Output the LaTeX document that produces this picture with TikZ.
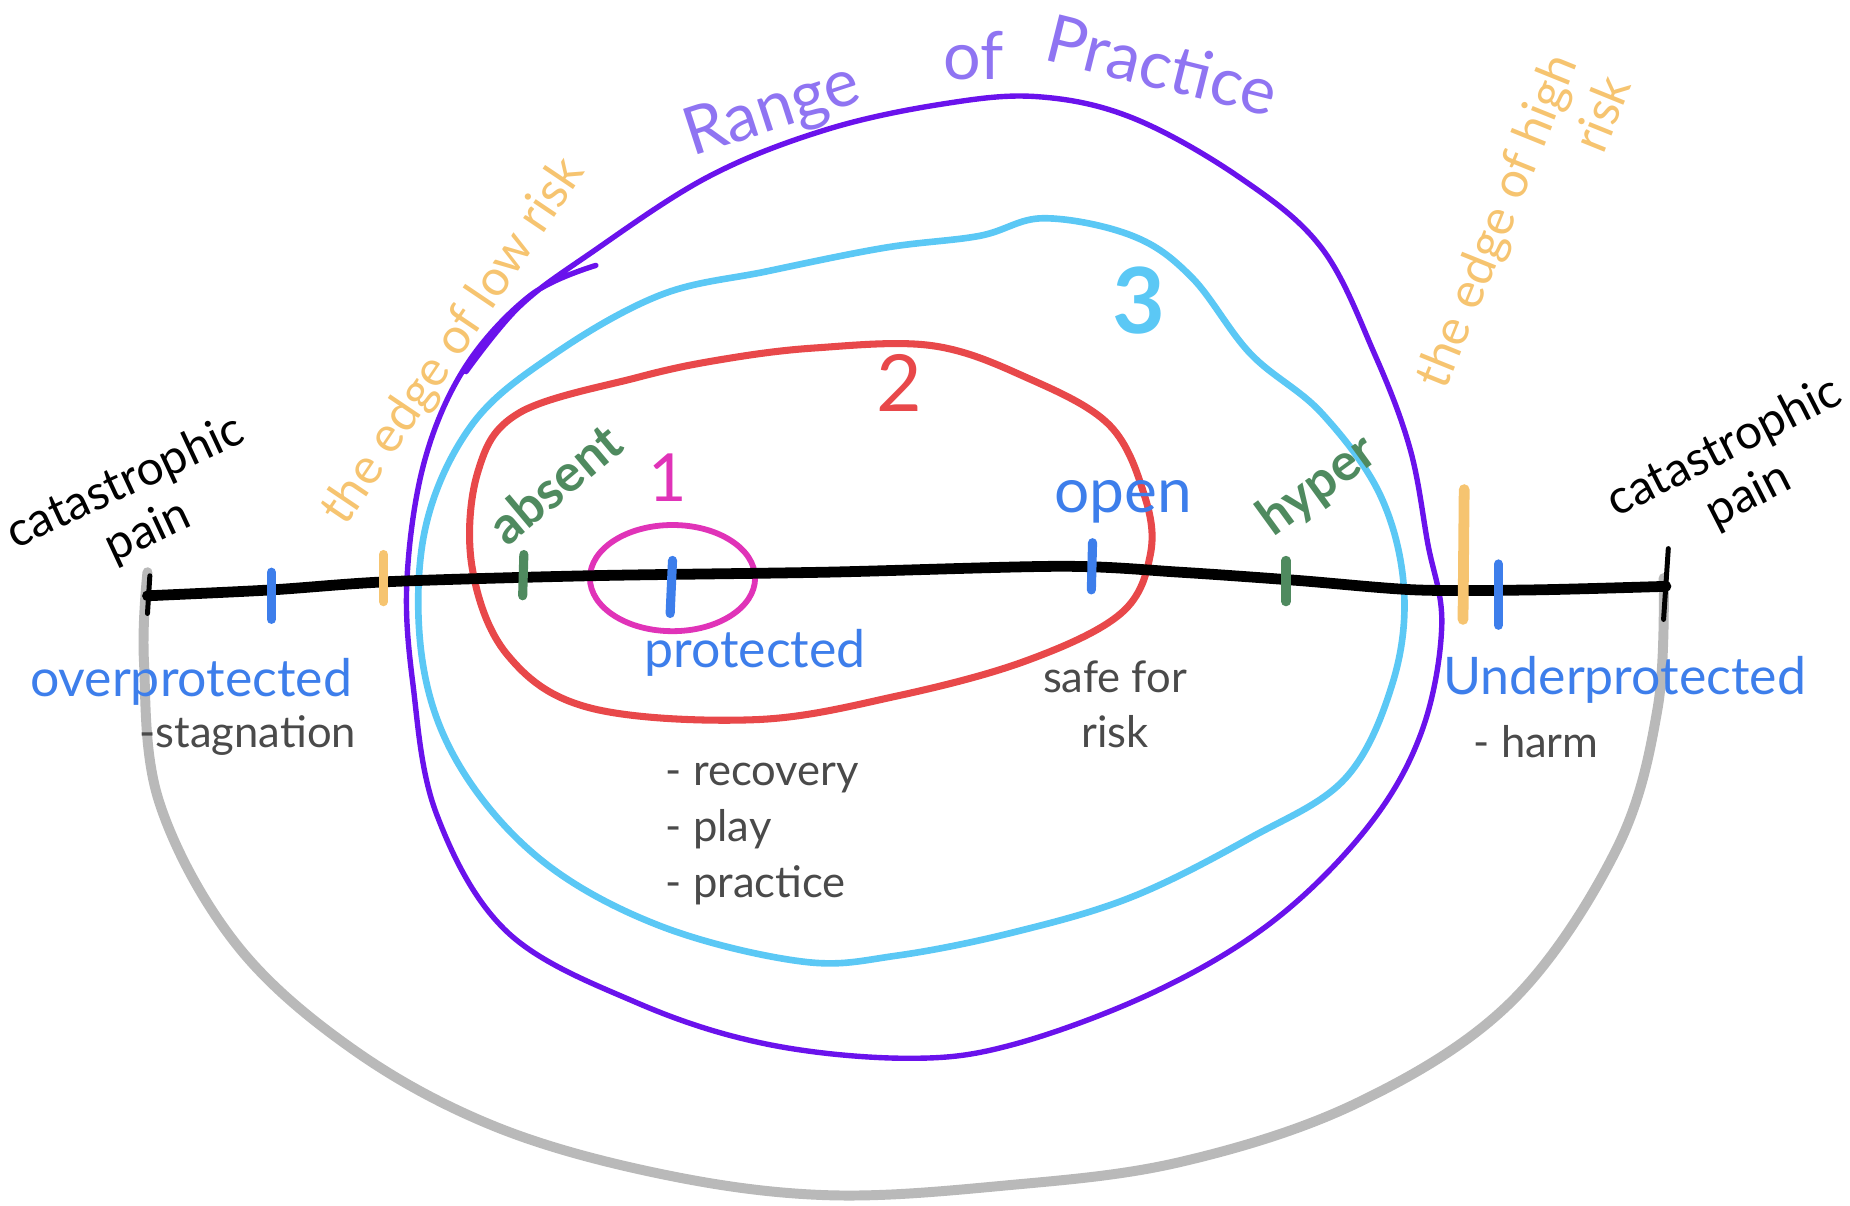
\documentclass[tikz,border=0pt]{standalone}
\usepackage{fontspec}
\setmainfont{Lato}
\usepackage{xcolor}
\usetikzlibrary{positioning}

\definecolor{rangepurple}{HTML}{6A12EC}
\definecolor{labelpurple}{HTML}{8F74F2}
\definecolor{ringcyan}{HTML}{5BC8F5}
\definecolor{ringred}{HTML}{E8484A}
\definecolor{ringpink}{HTML}{E033B8}
\definecolor{edgeorange}{HTML}{F6C470}
\definecolor{zoneblue}{HTML}{3D7EEB}
\definecolor{markgreen}{HTML}{4F8A5F}
\definecolor{notegray}{HTML}{4A4A4A}

\begin{document}
\begin{tikzpicture}[x=0.1mm,y=0.1mm,
    ring/.style={line width=#1,line join=round,line cap=round},
    tickmark/.style={line width=2.2pt,line cap=round},
    zone/.style={text=zoneblue,font=\fontsize{12.5}{14}\selectfont},
    note/.style={text=notegray,font=\fontsize{10.5}{13.5}\selectfont},
    edgetext/.style={text=edgeorange,font=\fontsize{12}{14}\selectfont},
    riskmark/.style={text=markgreen,font=\bfseries\fontsize{12.5}{14}\selectfont},
    titletext/.style={text=labelpurple,font=\fontsize{16}{18}\selectfont},
    paintext/.style={font=\fontsize{11.5}{13}\selectfont,align=center,inner sep=1pt}]
    \useasboundingbox (0,0) rectangle (1568,1022);

    % outer bowl of pain
    \draw[ring=2.4pt,gray!55,line cap=round] plot[smooth,tension=0.6] coordinates {
        (125,537) (122,462) (135,342) (200,222) (300,132) (420,67) (560,27)
        (700,9) (850,17) (1000,37) (1150,87) (1280,172) (1370,302) (1405,422) (1410,532)};

    % range of practice
    \draw[ring=1.3pt,rangepurple] plot[smooth,tension=0.6] coordinates {
        (395,707) (440,762) (500,807) (600,872) (700,912) (800,934) (880,940)
        (960,922) (1050,872) (1120,812) (1165,722) (1195,642) (1210,562) (1222,492)
        (1205,402) (1160,322) (1080,242) (980,182) (860,137) (770,125) (650,137)
        (540,172) (430,232) (370,332) (350,442) (345,532) (360,632) (395,712)
        (450,772) (505,797)};
    \draw[ring=1.6pt,ringcyan] plot[smooth cycle,tension=0.6] coordinates {
        (885,837) (960,822) (1010,787) (1060,722) (1120,672) (1170,602) (1190,522)
        (1180,442) (1140,362) (1060,312) (960,262) (860,232) (760,212) (680,207)
        (560,237) (460,292) (390,372) (358,462) (360,572) (400,662) (470,722)
        (560,772) (650,792) (750,812) (830,822)};
    \draw[ring=1.7pt,ringred] plot[smooth cycle,tension=0.6] coordinates {
        (690,727) (790,729) (870,702) (940,662) (970,602) (975,552) (950,502)
        (870,462) (760,432) (640,412) (500,422) (430,467) (400,542) (405,622)
        (440,672) (540,702) (610,717)};
    \draw[ring=1.4pt,ringpink] (570,532) ellipse [x radius=70,y radius=45];

    % the scale
    \draw[line width=2.6pt,line cap=round] plot[smooth,tension=0.5] coordinates {
        (125,517) (230,522) (330,529) (500,534) (700,537) (900,542) (1000,537)
        (1100,530) (1200,522) (1300,522) (1412,525)};
    \draw[tickmark,line width=1.2pt] (125,502) -- (127,534);
    \draw[tickmark,line width=1.2pt] (1410,497) -- (1414,557);
    \draw[tickmark,zoneblue] (230,497) -- (230,537);
    \draw[tickmark,edgeorange] (325,512) -- (325,552);
    \draw[tickmark,markgreen] (443,517) -- (444,552);
    \draw[tickmark,zoneblue] (568,502) -- (570,547);
    \draw[tickmark,zoneblue] (925,522) -- (926,562);
    \draw[tickmark,markgreen] (1090,512) -- (1090,547);
    \draw[tickmark,edgeorange,line width=2.6pt] (1240,497) -- (1241,607);
    \draw[tickmark,zoneblue] (1270,492) -- (1270,544);

    % titles along the rings
    \node[titletext,rotate=18] (range) at (655,927) {Range};
    \node[titletext] (of) at (825,975) {of};
    \node[titletext,rotate=-14] (practice) at (985,967) {Practice};
    \node[edgetext,rotate=56] (lowedge) at (385,732) {the edge of low risk};
    \node[edgetext,rotate=68,align=right] (highedge) at (1290,826) {the edge of high\\risk};

    % ends of the scale
    \node[paintext,rotate=25] (painl) at (116,592) {catastrophic\\pain};
    \node[paintext,rotate=27] (painr) at (1472,622) {catastrophic\\pain};

    % zones
    \node[zone] (over) at (162,444) {overprotected};
    \node[note] (stag) at (210,399) {-stagnation};
    \node[zone] (prot) at (640,469) {protected};
    \node[note,align=left,anchor=north west] (protnotes) at (552,388) {- recovery\\- play\\- practice};
    \node[zone,font=\fontsize{15}{16}\selectfont] (open) at (952,597) {open};
    \node[note,align=center] (safe) at (945,425) {safe for\\risk};
    \node[zone] (under) at (1377,446) {Underprotected};
    \node[note] (harm) at (1302,393) {- harm};

    \node[riskmark,rotate=40] (absent) at (470,612) {absent};
    \node[riskmark,rotate=36] (hyper) at (1117,610) {hyper};

    \node[text=ringpink,font=\fontsize{16}{18}\selectfont] (one) at (566,617) {1};
    \node[text=ringred,font=\fontsize{19}{20}\selectfont] (two) at (762,697) {2};
    \node[text=ringcyan,font=\bfseries\fontsize{22}{24}\selectfont] (three) at (965,767) {3};
\end{tikzpicture}
\end{document}
